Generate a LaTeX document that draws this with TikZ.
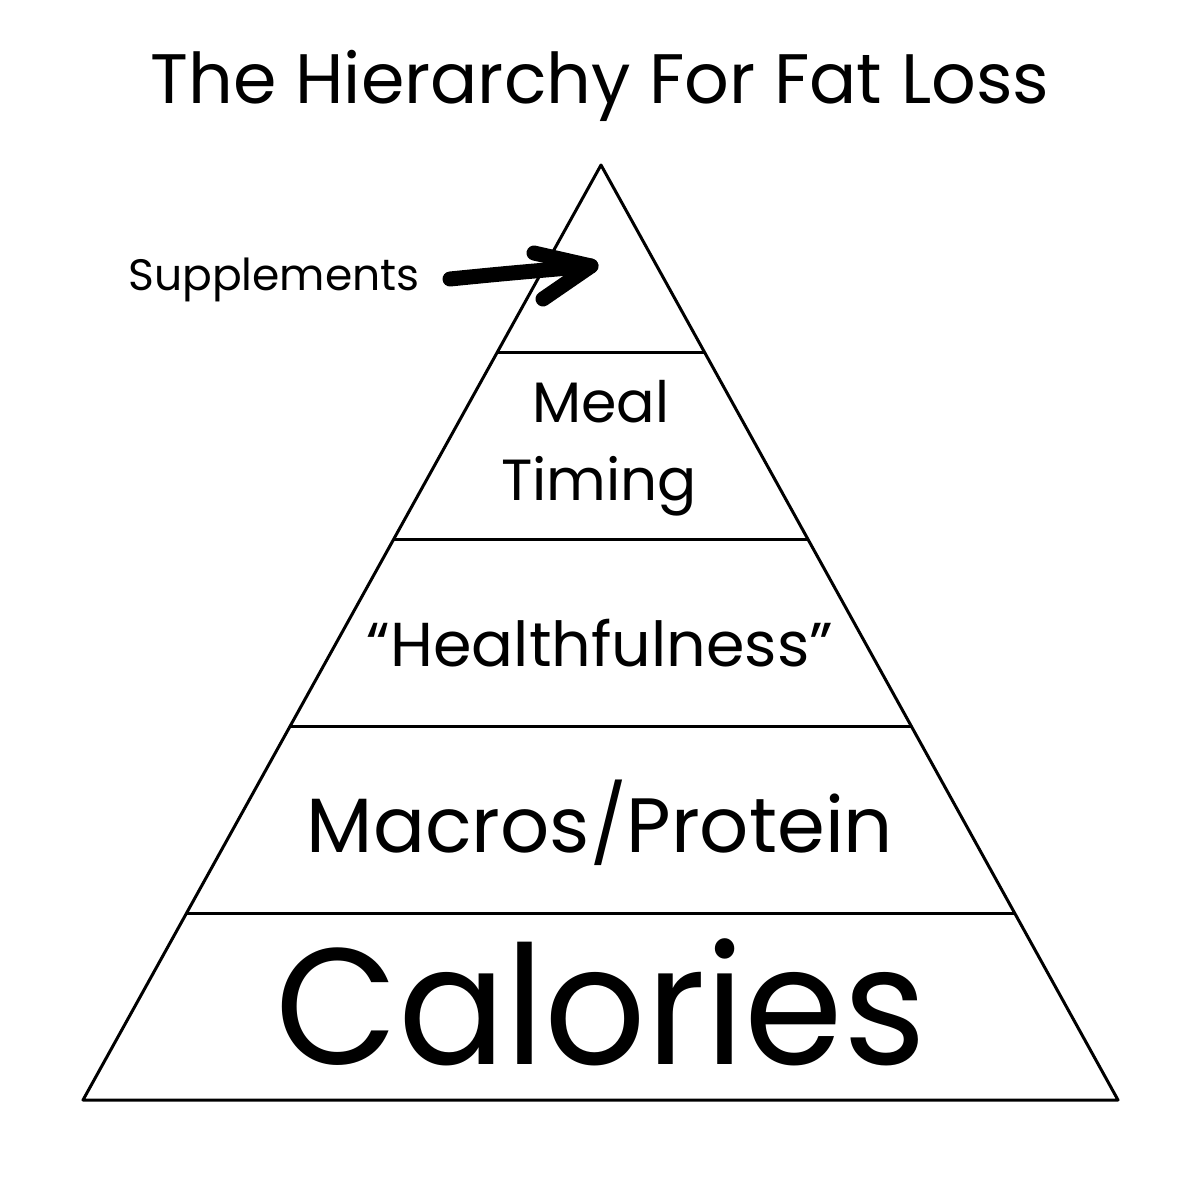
\documentclass[tikz,border=0pt]{standalone}
\usepackage{fontspec}
\setmainfont{Poppins}
\usetikzlibrary{calc}
\newcommand{\fsz}[1]{\fontsize{#1}{#1}\selectfont}
\tikzset{
  edge/.style={line width=3pt},
  label/.style={anchor=base, inner sep=0pt},
  marker/.style={line width=15pt, line cap=round, line join=round},
}

\begin{document}
\begin{tikzpicture}[x=1pt, y=-1pt]
    \useasboundingbox (0,0) rectangle (1200,1200);

    \coordinate (apex) at (601,165);
    \coordinate (bl) at (83,1100);
    \coordinate (br) at (1118,1100);

    \draw[edge, line join=round] (apex) -- (bl) -- (br) -- cycle;
    \foreach \f in {0.2,0.4,0.6,0.8}
        \draw[edge] ($(apex)!\f!(bl)$) -- ($(apex)!\f!(br)$);

    \node[label] (title) at (600,103) {\fsz{70}The Hierarchy For Fat Loss};
    \node[label] (supp) at (274,290) {\fsz{44}Supplements};
    \node[label] (meal) at (601,422) {\fsz{57}Meal};
    \node[label] (timing) at (599,500) {\fsz{58}Timing};
    \node[label] (health) at (600,666) {\fsz{62}“Healthfulness”};
    \node[label] (macros) at (600,852) {\fsz{77}Macros/Protein};
    \node[label, yscale=1.04] (calories) at (601,1064) {\fsz{159}Calories};

    \coordinate (tail) at (450,279);
    \coordinate (tip) at (591,266);
    \draw[marker] (tail) .. controls (500,274) .. (tip);
    \draw[marker] (534,253) -- (tip) -- (543,299);
\end{tikzpicture}
\end{document}
